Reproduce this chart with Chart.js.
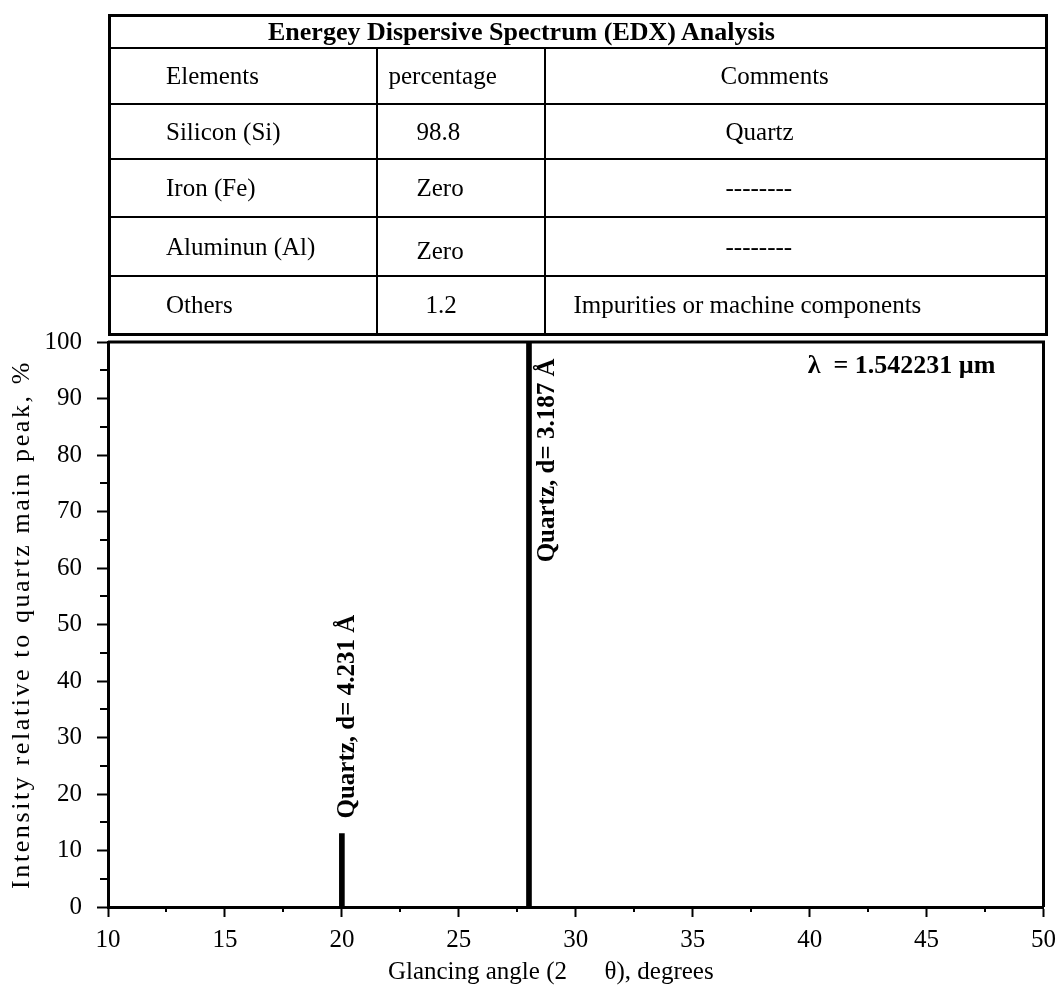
<!DOCTYPE html>
<html>
<head>
<meta charset="utf-8">
<title>EDX / XRD quartz</title>
<script src="https://cdn.jsdelivr.net/npm/chart.js@4.4.1/dist/chart.umd.min.js"></script>
<style>
  html, body { margin: 0; padding: 0; background: #fff; }
  #wrap { position: relative; width: 1064px; height: 992px; }
  #xrd { position: absolute; left: 0; top: 0; }
  table.edx {
    position: absolute; left: 108px; top: 14px; width: 937px;
    border-collapse: collapse; table-layout: fixed;
    font-family: "Liberation Serif", "Times New Roman", serif; font-size: 25px;
    border: 3px solid #000;
  }
  table.edx td { border: 2px solid #000; padding: 0; white-space: nowrap; vertical-align: middle; }
  table.edx tr.head td { font-weight: bold; font-size: 26px; padding-left: 157px; height: 27px; }
  table.edx td.c1 { padding-left: 55px; }
</style>
</head>
<body>
<div id="wrap">
  <canvas id="xrd" width="1064" height="992"></canvas>
  <table class="edx">
    <colgroup><col style="width:267px"><col style="width:168px"><col style="width:502px"></colgroup>
    <tr class="head"><td colspan="3">Energey Dispersive Spectrum (EDX) Analysis</td></tr>
    <tr style="height:56px"><td class="c1">Elements</td><td style="padding-left:11px">percentage</td><td style="padding-left:175px">Comments</td></tr>
    <tr style="height:55px"><td class="c1">Silicon (Si)</td><td style="padding-left:39px">98.8</td><td style="padding-left:180px">Quartz</td></tr>
    <tr style="height:58px"><td class="c1">Iron (Fe)</td><td style="padding-left:39px">Zero</td><td style="padding-left:180px">--------</td></tr>
    <tr style="height:59px"><td class="c1">Aluminun (Al)</td><td style="padding-left:39px;padding-top:8px">Zero</td><td style="padding-left:180px">--------</td></tr>
    <tr style="height:58px"><td class="c1">Others</td><td style="padding-left:48px">1.2</td><td style="padding-left:28px">Impurities or machine components</td></tr>
  </table>
</div>
<script>
// diffraction peaks: glancing angle 2θ (deg) and relative intensity (%)
const angles = [20, 28];
const intensities = [13, 100];
const peakNames = ['Quartz, d= 4.231 Å', 'Quartz, d= 3.187 Å'];
const xLimits = [10, 50];
const yLimits = [0, 100];
const wavelengthNote = 'λ  = 1.542231 µm';

const serif = '"Liberation Serif", "Times New Roman", serif';

// short minor ticks, top/right frame and the text annotations
const decorations = {
  id: 'decorations',
  beforeDraw(chart) {
    const ys = chart.scales.y;
    if (!ys._spaced) {
      const orig = ys.drawTitle.bind(ys);
      ys.drawTitle = function () {
        this.ctx.save();
        this.ctx.letterSpacing = '2.6px';
        orig();
        this.ctx.restore();
      };
      ys._spaced = true;
    }
  },
  afterDraw(chart) {
    const { ctx, chartArea: a, scales: { x, y } } = chart;
    ctx.save();
    ctx.strokeStyle = '#000';
    ctx.lineWidth = 2;
    ctx.beginPath();
    for (let v = 5; v < 100; v += 10) {
      const py = Math.round(y.getPixelForValue(v));
      ctx.moveTo(a.left - 8, py);
      ctx.lineTo(a.left, py);
    }
    for (let v = 12.5; v < 50; v += 5) {
      const px = Math.round(x.getPixelForValue(v));
      ctx.moveTo(px, a.bottom);
      ctx.lineTo(px, a.bottom + 5);
    }
    ctx.stroke();

    ctx.lineWidth = 3;
    ctx.beginPath();
    ctx.moveTo(a.left, a.top);
    ctx.lineTo(a.right, a.top);
    ctx.lineTo(a.right, a.bottom);
    ctx.stroke();

    ctx.fillStyle = '#000';
    ctx.font = 'bold 25px ' + serif;
    ctx.textAlign = 'left';
    ctx.textBaseline = 'alphabetic';
    const offsets = [[12, 15], [25, 0]];
    angles.forEach((ang, i) => {
      const px = x.getPixelForValue(ang) + offsets[i][0];
      const py = i === 0 ? y.getPixelForValue(intensities[i]) - offsets[i][1] : y.getPixelForValue(61);
      ctx.save();
      ctx.translate(px, py);
      ctx.rotate(-Math.PI / 2);
      ctx.fillText(peakNames[i], 0, 0);
      ctx.restore();
    });

    ctx.font = 'bold 26px ' + serif;
    ctx.fillText(wavelengthNote, x.getPixelForValue(40) - 2, a.top + 31);
    ctx.restore();
  }
};

new Chart(document.getElementById('xrd'), {
  type: 'bar',
  data: {
    datasets: [{
      data: angles.map((a, i) => ({ x: a, y: intensities[i] })),
      backgroundColor: '#000',
      borderWidth: 0,
      barThickness: 5
    }]
  },
  options: {
    responsive: false,
    animation: false,
    devicePixelRatio: 1,
    layout: { padding: { top: 342, right: 19, left: 0, bottom: 0 } },
    plugins: { legend: { display: false }, tooltip: { enabled: false } },
    scales: {
      x: {
        type: 'linear',
        min: xLimits[0],
        max: xLimits[1],
        offset: false,
        grid: { offset: false, drawOnChartArea: false, drawTicks: true, tickLength: 10, tickWidth: 2, tickColor: '#000' },
        border: { display: true, color: '#000', width: 3 },
        ticks: { stepSize: 5, color: '#000', padding: 8, font: { family: serif, size: 25 } },
        title: {
          display: true,
          text: 'Glancing angle (2      θ), degrees        ',
          color: '#000',
          font: { family: serif, size: 25 },
          padding: { top: 0, bottom: 5 }
        },
        afterFit(s) { s.height = 85; }
      },
      y: {
        min: yLimits[0],
        max: yLimits[1],
        grid: { drawOnChartArea: false, drawTicks: true, tickLength: 11, tickWidth: 2, tickColor: '#000' },
        border: { display: true, color: '#000', width: 3 },
        ticks: { stepSize: 10, color: '#000', padding: 15, font: { family: serif, size: 25 } },
        title: {
          display: true,
          text: 'Intensity relative to quartz main peak, %',
          color: '#000',
          font: { family: serif, size: 26 },
          padding: { top: 7, bottom: 0 }
        },
        afterFit(s) { s.width = 108; }
      }
    }
  },
  plugins: [decorations]
});
</script>
</body>
</html>
